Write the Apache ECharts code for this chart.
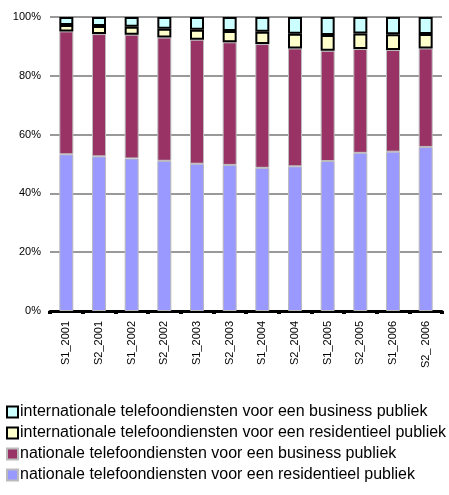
<!DOCTYPE html>
<html>
<head>
<meta charset="utf-8">
<script src="https://cdn.jsdelivr.net/npm/echarts@6/dist/echarts.min.js"></script>
<style>
html, body { margin: 0; padding: 0; background: #fff; }
#chart { width: 449px; height: 495px; }
</style>
</head>
<body>
<div id="chart"></div>
<script>
var categories = ['S1_2001', 'S2_2001', 'S1_2002', 'S2_2002', 'S1_2003', 'S2_2003',
    'S1_2004', 'S2_2004', 'S1_2005', 'S2_2005', 'S1_2006', 'S2_ 2006'];
// aandelen in % per semester
var natResidentieel = [53.3, 52.6, 51.9, 51.1, 50.1, 49.7, 48.7, 49.2, 51.0, 53.8, 54.2, 55.8];
var natBusiness = [41.8, 41.6, 42.1, 41.9, 42.2, 41.7, 42.1, 40.1, 37.5, 35.3, 34.6, 33.5];
var intResidentieel = [2.2, 2.7, 2.7, 3.0, 3.4, 3.8, 4.2, 5.0, 5.4, 5.3, 5.3, 4.9];
var intBusiness = [2.7, 3.1, 3.3, 4.0, 4.3, 4.8, 5.0, 5.7, 6.1, 5.6, 5.9, 5.8];
var yTicks = [0, 20, 40, 60, 80, 100];

var names = [
    'nationale telefoondiensten voor een residentieel publiek',
    'nationale telefoondiensten voor een business publiek',
    'internationale telefoondiensten voor een residentieel publiek',
    'internationale telefoondiensten voor een business publiek'
];

var myChart = echarts.init(document.getElementById('chart'));

function bar(name, data, color, border, bw) {
    return {
        name: name,
        type: 'bar',
        stack: 'tot',
        barWidth: 14,
        data: data,
        itemStyle: { color: color, borderColor: border, borderWidth: bw }
    };
}

var option = {
    animation: false,
    textStyle: { fontFamily: 'Liberation Sans, Arial, sans-serif' },
    grid: { left: 50, right: 7, top: 17, bottom: 184 },
    legend: {
        orient: 'vertical',
        left: 1,
        top: 399,
        itemGap: 5,
        itemWidth: 11,
        itemHeight: 11,
        icon: 'rect',
        textStyle: { fontSize: 16, color: '#000', padding: [0, 0, 0, -3] },
        data: [names[3], names[2], names[1], names[0]]
    },
    xAxis: {
        type: 'category',
        data: categories,
        axisLine: { lineStyle: { color: '#000', width: 3 } },
        axisTick: { show: true, length: 3, lineStyle: { color: '#000', width: 4 } },
        axisLabel: { rotate: 90, fontSize: 11, color: '#000', margin: 10, interval: 0 }
    },
    yAxis: {
        type: 'value',
        min: yTicks[0],
        max: yTicks[yTicks.length - 1],
        interval: 20,
        axisLine: { show: false },
        axisTick: { show: false },
        axisLabel: { formatter: '{value}%', fontSize: 11, color: '#000', margin: 9 },
        splitLine: { lineStyle: { color: '#999', width: 2 } }
    },
    series: [
        bar(names[0], natResidentieel, '#9999ff', '#bbbbbb', 1),
        bar(names[1], natBusiness, '#993366', '#bbbbbb', 1),
        bar(names[2], intResidentieel, '#ffffcc', '#000', 2),
        bar(names[3], intBusiness, '#ccffff', '#000', 2)
    ]
};
myChart.setOption(option);
</script>
</body>
</html>
